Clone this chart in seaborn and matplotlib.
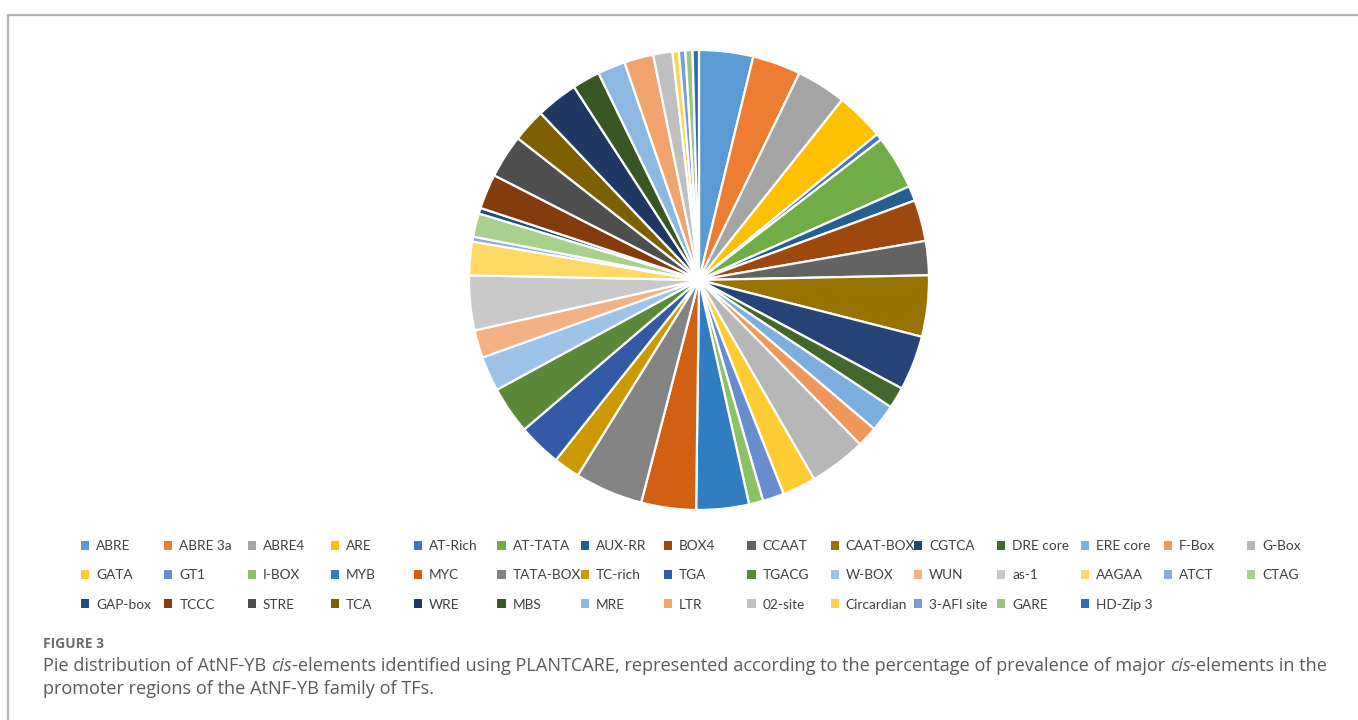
import matplotlib
matplotlib.use("Agg")
import matplotlib.pyplot as plt
from matplotlib.lines import Line2D
from matplotlib.patches import Patch
import seaborn as sns

# cis-element categories (in plotting order, clockwise from 12 o'clock)
elements = [
    "ABRE", "ABRE 3a", "ABRE4", "ARE", "AT-Rich", "AT-TATA", "AUX-RR", "BOX4",
    "CCAAT", "CAAT-BOX", "CGTCA", "DRE core", "ERE core", "F-Box", "G-Box",
    "GATA", "GT1", "I-BOX", "MYB", "MYC", "TATA-BOX", "TC-rich", "TGA",
    "TGACG", "W-BOX", "WUN", "as-1", "AAGAA", "ATCT", "CTAG",
    "GAP-box", "TCCC", "STRE", "TCA", "WRE", "MBS", "MRE", "LTR", "02-site",
    "Circardian", "3-AFI site", "GARE", "HD-Zip 3",
]

# prevalence (%) of each element
prevalence = [
    3.80, 3.40, 3.50, 3.40, 0.45, 3.80, 1.05, 2.90,
    2.40, 4.30, 3.85, 1.50, 1.90, 1.45, 4.00,
    2.35, 1.50, 1.00, 3.70, 3.85, 4.80, 1.85, 3.05,
    3.35, 2.45, 1.95, 3.85, 2.35, 0.35, 1.65,
    0.40, 2.45, 3.05, 2.35, 2.95, 1.95, 1.95, 2.05, 1.35,
    0.45, 0.45, 0.50, 0.45,
]

# Office-style series palette
colors = [
    "#5B9BD5", "#ED7D31", "#A5A5A5", "#FFC000", "#4472C4", "#70AD47",
    "#255E91", "#9E480E", "#636363", "#997300", "#264478", "#43682B",
    "#7CAFDD", "#F1975A", "#B7B7B7", "#FFCD33", "#698ED0", "#8CC168",
    "#327DC2", "#D26012", "#848484", "#CC9A00", "#335AA6", "#5A8A39",
    "#9DC3E6", "#F4B183", "#C9C9C9", "#FFD966", "#8FAADC", "#A9D18E",
    "#1F4E79", "#843C0C", "#4F4F4F", "#7F6000", "#1F3864", "#385723",
    "#8CB9E2", "#F2A46F", "#C0C0C0", "#FFD34D", "#7C9CD6", "#9BC67E",
    "#2E6DAE",
]

caption_title = "FIGURE 3"
caption_line1 = [
    ("Pie distribution of AtNF-YB ", "normal"),
    ("cis", "italic"),
    ("-elements identified using PLANTCARE, represented according to the "
     "percentage of prevalence of major ", "normal"),
    ("cis", "italic"),
    ("-elements in the", "normal"),
]
caption_line2 = [("promoter regions of the AtNF-YB family of TFs.", "normal")]

sns.set_theme(style="white")
plt.rcParams["font.family"] = ["Lato", "DejaVu Sans"]

W, H = 1358, 720
fig = plt.figure(figsize=(W / 100, H / 100), dpi=100)
fig.patch.set_facecolor("white")

# pie axes: centre (699, 280) px, radius 230 px
cx, cy, r = 699, 280, 230
ax = fig.add_axes([(cx - r) / W, (H - cy - r) / H, 2 * r / W, 2 * r / H])
wedges, _ = ax.pie(
    prevalence,
    colors=colors,
    startangle=90,
    counterclock=False,
    radius=1.0,
    wedgeprops=dict(edgecolor="white", linewidth=1.6),
)
ax.set_xlim(-1, 1)
ax.set_ylim(-1, 1)
ax.set_aspect("equal")
ax.axis("off")

# legend: 15 equal-width columns, filled row by row
ncols = 15
rows = [elements[i:i + ncols] for i in range(0, len(elements), ncols)]
col_x0, col_dx = 81, 83.3
row_top = 540
for c in range(ncols):
    handles = []
    for row in rows:
        if c < len(row):
            name = row[c]
            idx = elements.index(name)
            handles.append(Patch(facecolor=colors[idx], edgecolor="none", label=name))
    fig.legend(
        handles=handles,
        loc="upper left",
        bbox_to_anchor=((col_x0 + c * col_dx) / W, 1 - row_top / H),
        frameon=False,
        fontsize=9.8,
        handlelength=0.6,
        handleheight=0.6,
        handletextpad=0.5,
        labelspacing=1.27,
        borderpad=0,
        borderaxespad=0,
        labelcolor="#404040",
    )

# frame lines (top and left)
border = "#B4B4B4"
fig.add_artist(Line2D([8 / W, 1], [1 - 15 / H, 1 - 15 / H], color=border, lw=1.6,
                      transform=fig.transFigure))
fig.add_artist(Line2D([8 / W, 8 / W], [0, 1 - 15 / H], color=border, lw=1.6,
                      transform=fig.transFigure))

# caption
cap_font = ["Open Sans", "DejaVu Sans"]
cap_x = 43
fig.text(cap_x / W, 1 - 644 / H, caption_title, fontsize=10.0, fontweight="bold",
         color="#6E6E6E", family=cap_font, va="center", ha="left")

fig.canvas.draw()
renderer = fig.canvas.get_renderer()


def draw_pieces(pieces, x_px, y_px, size):
    x = x_px
    for txt, style in pieces:
        t = fig.text(x / W, 1 - y_px / H, txt, fontsize=size, style=style,
                     color="#5A5A5A", family=cap_font, va="baseline", ha="left")
        bb = t.get_window_extent(renderer=renderer)
        x += bb.width


draw_pieces(caption_line1, cap_x, 671, 13.1)
draw_pieces(caption_line2, cap_x, 694, 13.1)

fig.savefig("out.png", dpi=100, facecolor="white")
